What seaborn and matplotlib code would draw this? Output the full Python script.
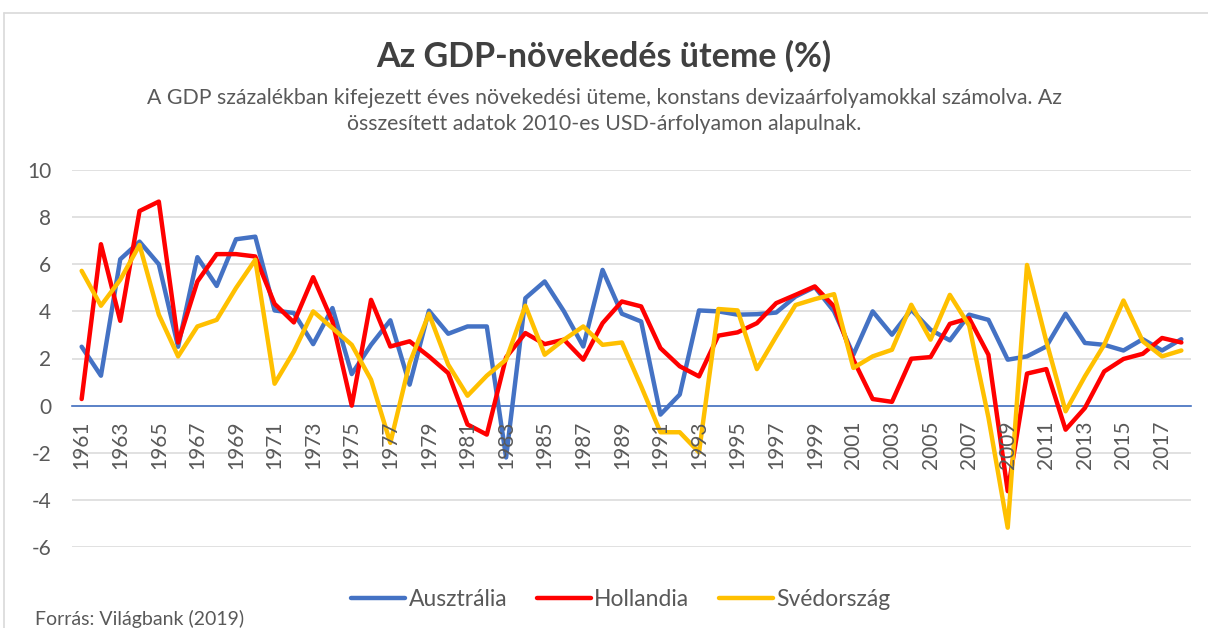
import matplotlib
matplotlib.use("Agg")
import matplotlib.pyplot as plt
from matplotlib.lines import Line2D
import pandas as pd
import seaborn as sns

# Annual GDP growth (%), 1961-2018
years = list(range(1961, 2019))
ausztralia = [
    2.50, 1.27, 6.21, 6.96, 6.00, 2.50, 6.30, 5.08, 7.06, 7.17,
    4.04, 3.93, 2.61, 4.14, 1.34, 2.58, 3.62, 0.89, 4.03, 3.05,
    3.36, 3.36, -2.20, 4.56, 5.27, 4.00, 2.51, 5.76, 3.90, 3.57,
    -0.38, 0.47, 4.04, 4.00, 3.86, 3.88, 3.95, 4.63, 5.03, 4.00,
    2.16, 4.00, 3.01, 4.07, 3.22, 2.77, 3.86, 3.64, 1.95, 2.09,
    2.51, 3.90, 2.66, 2.58, 2.34, 2.82, 2.34, 2.82,
]
hollandia = [
    0.28, 6.85, 3.60, 8.26, 8.66, 2.68, 5.27, 6.43, 6.43, 6.33,
    4.32, 3.53, 5.45, 3.57, 0.00, 4.49, 2.51, 2.73, 2.09, 1.38,
    -0.80, -1.23, 2.05, 3.08, 2.61, 2.80, 1.95, 3.50, 4.42, 4.21,
    2.44, 1.67, 1.24, 2.97, 3.11, 3.50, 4.35, 4.70, 5.06, 4.21,
    1.95, 0.28, 0.16, 1.99, 2.06, 3.47, 3.71, 2.16, -3.63, 1.36,
    1.55, -1.02, -0.10, 1.45, 1.98, 2.20, 2.87, 2.68,
]
svedorszag = [
    5.72, 4.24, 5.34, 6.82, 3.86, 2.09, 3.36, 3.64, 4.99, 6.19,
    0.93, 2.30, 4.00, 3.29, 2.58, 1.10, -1.58, 1.81, 3.90, 1.74,
    0.42, 1.27, 1.95, 4.24, 2.16, 2.80, 3.36, 2.58, 2.68, 0.82,
    -1.13, -1.13, -1.98, 4.10, 4.04, 1.55, 2.94, 4.27, 4.52, 4.73,
    1.60, 2.09, 2.37, 4.28, 2.80, 4.70, 3.40, -0.50, -5.18, 5.97,
    2.73, -0.24, 1.24, 2.58, 4.46, 2.73, 2.09, 2.34,
]
series_names = ["Ausztrália", "Hollandia", "Svédország"]
series_colors = ["#4472C4", "#FF0000", "#FFC000"]
y_ticks = [-6, -4, -2, 0, 2, 4, 6, 8, 10]
x_tick_years = years[::2]

title = "Az GDP-növekedés üteme (%)"
subtitle = ("A GDP százalékban kifejezett éves növekedési üteme, konstans devizaárfolyamokkal számolva. Az\n"
            "összesített adatok 2010-es USD-árfolyamon alapulnak.")
source = "Forrás: Világbank (2019)"

df = pd.DataFrame({
    "Év": years * 3,
    "Növekedés": ausztralia + hollandia + svedorszag,
    "Ország": [n for n in series_names for _ in years],
})

sns.set_theme(style="white")
plt.rcParams["font.family"] = ["Lato", "DejaVu Sans"]
TEXT = "#595959"
GRID = "#d9d9d9"

W, H = 1208, 628
fig = plt.figure(figsize=(W / 100, H / 100), dpi=100)
fig.patch.set_facecolor("white")

# plot area in pixel coordinates
left, right, top, bottom = 72, 1191, 170, 547
ax = fig.add_axes([left / W, (H - bottom) / H, (right - left) / W, (bottom - top) / H])

sns.lineplot(data=df, x="Év", y="Növekedés", hue="Ország",
             palette=dict(zip(series_names, series_colors)),
             linewidth=3.2, ax=ax, legend=False, zorder=3)
for ln in ax.get_lines():
    ln.set_solid_joinstyle("round")
    ln.set_solid_capstyle("round")

# category axis crosses the value axis at zero
for side in ("top", "right", "left"):
    ax.spines[side].set_visible(False)
ax.spines["bottom"].set_position(("data", 0))
ax.spines["bottom"].set_color("#4472C4")
ax.spines["bottom"].set_linewidth(1.2)
ax.spines["bottom"].set_zorder(2.6)

ax.set_xlim(years[0] - 0.5, years[-1] + 0.5)
ax.set_ylim(min(y_ticks), max(y_ticks))
ax.set_yticks(y_ticks)
ax.set_yticklabels([str(v) for v in y_ticks])
ax.set_xticks(x_tick_years)
ax.set_xticklabels([str(y) for y in x_tick_years])
ax.set_xlabel("")
ax.set_ylabel("")

ax.grid(axis="y", color=GRID, linewidth=1.1)
ax.grid(axis="x", visible=False)
ax.set_axisbelow(True)
# year labels sit on top of the lines, value gridlines stay beneath them
ax.xaxis.set_zorder(4)

ax.tick_params(axis="y", length=0, pad=15, labelsize=15, labelcolor=TEXT)
ax.tick_params(axis="x", length=0, pad=11, labelsize=15, labelcolor=TEXT,
               labelrotation=90)

# titles
fig.text(0.5, (H - 56) / H, title, ha="center", va="center",
         fontsize=24.5, fontweight="bold", color="#404040")
fig.text(0.5, (H - 111) / H, subtitle, ha="center", va="center",
         fontsize=15.3, color=TEXT, linespacing=1.4)

# legend
handles = [Line2D([0], [0], color=c, linewidth=3.2, solid_capstyle="round")
           for c in series_colors]
fig.legend(handles, series_names, loc="center", bbox_to_anchor=(0.514, (H - 600) / H),
           ncol=3, frameon=False, fontsize=16.5, labelcolor=TEXT,
           handlelength=2.35, handletextpad=0.15, columnspacing=1.3)

fig.text(35 / W, (H - 619) / H, source, ha="left", va="center",
         fontsize=14, color=TEXT)

# chart-area frame
fig.add_artist(Line2D([4 / W, 1.0], [(H - 12.5) / H] * 2, transform=fig.transFigure,
                      color=GRID, linewidth=1.2))
fig.add_artist(Line2D([4 / W] * 2, [0.0, (H - 12.5) / H], transform=fig.transFigure,
                      color=GRID, linewidth=1.2))

fig.savefig("out.png", dpi=100, facecolor="white")
